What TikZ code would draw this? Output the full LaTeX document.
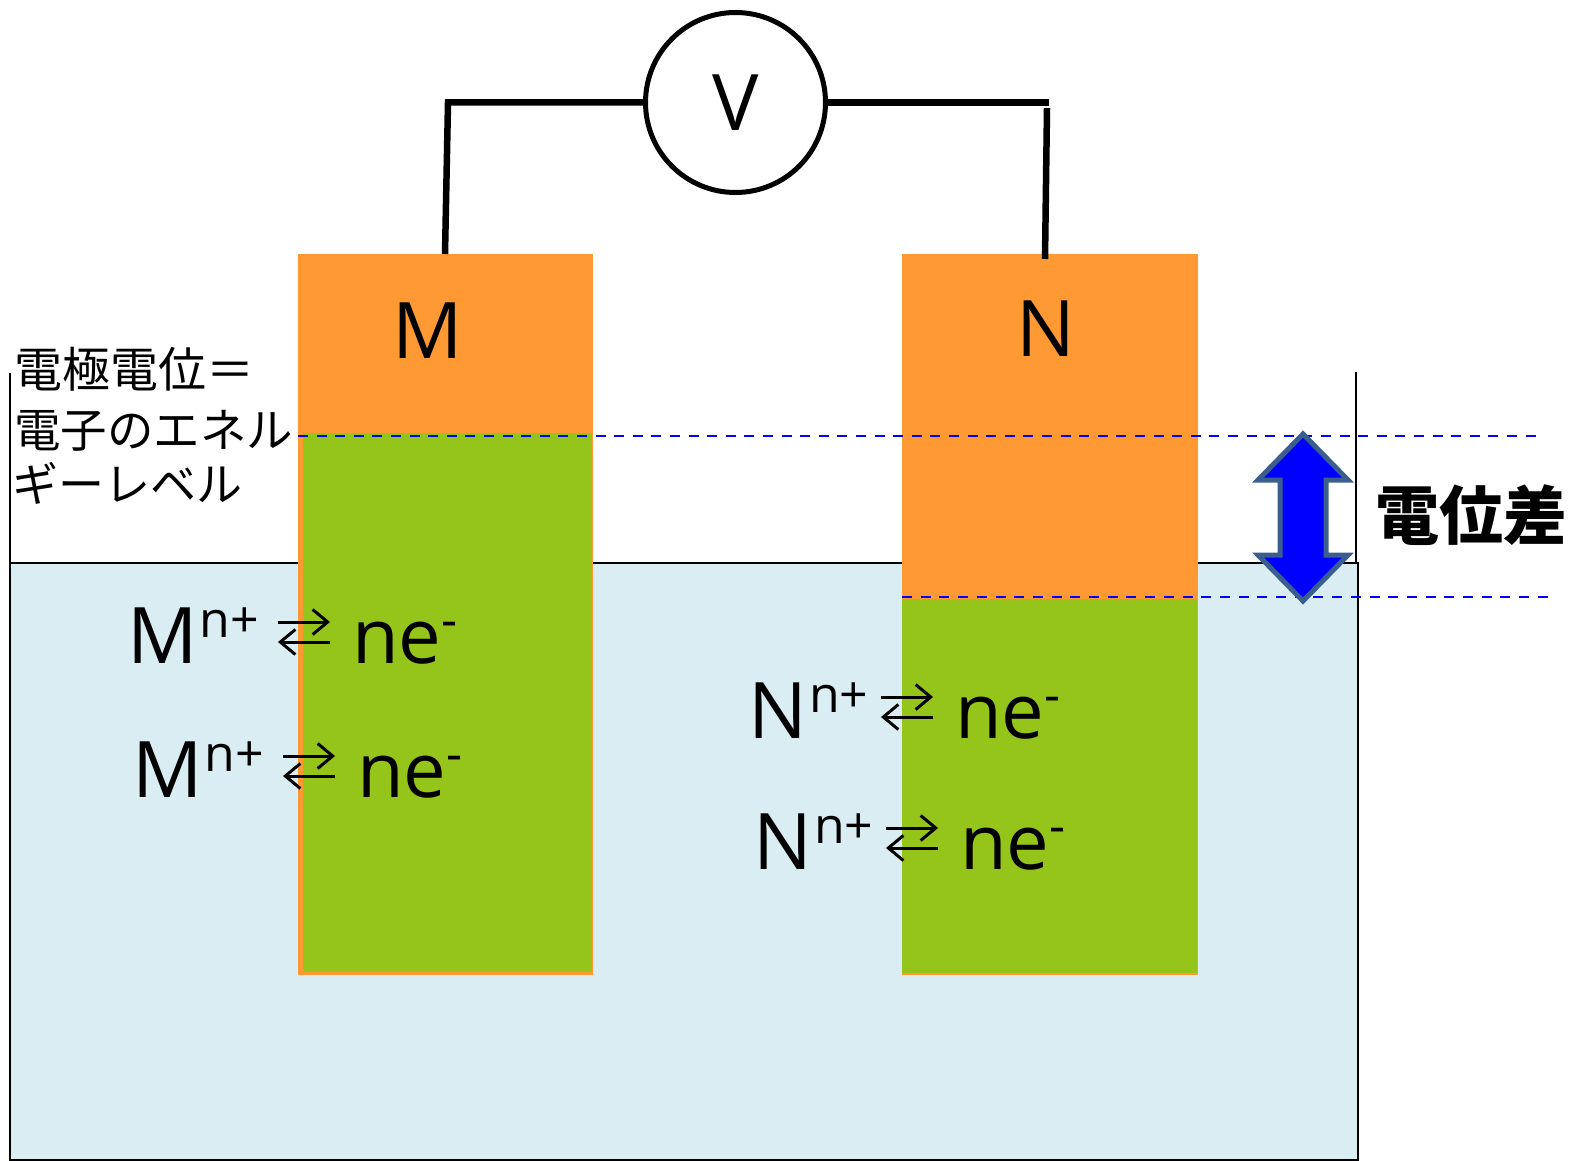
\documentclass[tikz,border=0pt]{standalone}
\usepackage{fontspec}
\setmainfont{Open Sans}
\newfontfamily\jpfont{Noto Sans CJK JP}
\usetikzlibrary{arrows.meta}
\definecolor{metal}{HTML}{FF9933}
\definecolor{electron}{HTML}{95C41A}
\definecolor{liquid}{HTML}{DAEDF3}
\definecolor{gapedge}{HTML}{3A5F8F}
\newcommand{\raisedsup}[1]{\raisebox{26pt}{\fontsize{50}{50}\selectfont #1}}
\tikzset{
  wire/.style={line width=6.5pt},
  level/.style={blue,line width=2.5pt,dash pattern=on 10pt off 8.6pt},
  txt/.style={inner sep=0pt,anchor=base west,font=\fontsize{76}{76}\selectfont},
  big/.style={txt,font=\fontsize{78}{78}\selectfont},
  jp/.style={inner sep=0pt,anchor=base west,font=\jpfont\fontsize{46}{46}\selectfont},
  eqarrow/.style={line width=3pt,-{Straight Barb[length=15pt,width=25pt,line width=3pt]}}
}
\begin{document}
\begin{tikzpicture}[x=1pt,y=-1pt]
\useasboundingbox (0,0) rectangle (1571,1161);

% liquid
\draw [fill=liquid,line width=2.5pt] (10,563) rectangle (1358,1160);
\draw [line width=2.5pt] (10,373) -- (10,563);
\draw [line width=2.5pt] (1356,372) -- (1356,563);
% electrodes
\fill [metal] (297.5,254) rectangle (593,975);
\fill [electron] (303,433) rectangle (592,972);
\fill [metal] (902,254) rectangle (1198,975);
\fill [electron] (902,599) rectangle (1197,973);
% voltmeter
\node (meter) [circle,draw,line width=5pt,minimum size=180pt,inner sep=0pt,font=\fontsize{78}{78}\selectfont] at (735.5,102.5) {V};
\coordinate (topM) at (445,254);
\coordinate (cornerM) at (448,102.5);
\coordinate (cornerN) at (1049,102.5);
\coordinate (startN) at (1047,108);
\coordinate (topN) at (1045,259);
\draw [wire] (topM) -- (cornerM) -- (meter);
\draw [wire] (meter) -- (cornerN);
\draw [wire] (startN) -- (topN);
% electrode names
\node (nameM) [big] at (392,358) {M};
\node (nameN) [big] at (1016,356) {N};
% levels
\draw [level] (298,436) -- (1538,436);
\draw [level,dash pattern=on 10pt off 8.7pt] (902,597) -- (1553,597);
% gap arrow
\draw [fill=blue,draw=gapedge,line width=5pt,miter limit=10]
  (1303,434) -- (1348,480) -- (1326,480) -- (1326,555) -- (1348,555) -- (1303,601)
  -- (1258,555) -- (1280,555) -- (1280,480) -- (1258,480) -- cycle;
% equations
\foreach \dx/\dy/\el/\shift/\id in {0/0/M/0/a,5/134/M/0/b,603/75/N/18/c,608/206/N/18/d} {
  \node (ion\id) [big] at (127+\dx+\shift,663+\dy) {\el\kern2pt\raisedsup{n+}};
  \node (ele\id) [txt] at (352+\dx,663+\dy) {ne\raisedsup{-}};
  \coordinate (fromR\id) at (278+\dx,622+\dy);
  \coordinate (toR\id) at (330+\dx,622+\dy);
  \coordinate (fromL\id) at (330+\dx,642+\dy);
  \coordinate (toL\id) at (278+\dx,642+\dy);
  \draw [eqarrow] (fromR\id) -- (toR\id);
  \draw [eqarrow] (fromL\id) -- (toL\id);
}
% captions
\node (capA) [jp,font=\jpfont\fontsize{48}{48}\selectfont] at (14,387) {電極電位＝};
\node (capB) [jp,font=\jpfont\fontsize{46.5}{47}\selectfont] at (14,447) {電子のエネル};
\node (capC) [jp] at (12,501) {ギーレベル};
\node (capD) [jp,font=\jpfont\bfseries\fontsize{64}{64}\selectfont] at (1375,539) {電位差};
\end{tikzpicture}
\end{document}
